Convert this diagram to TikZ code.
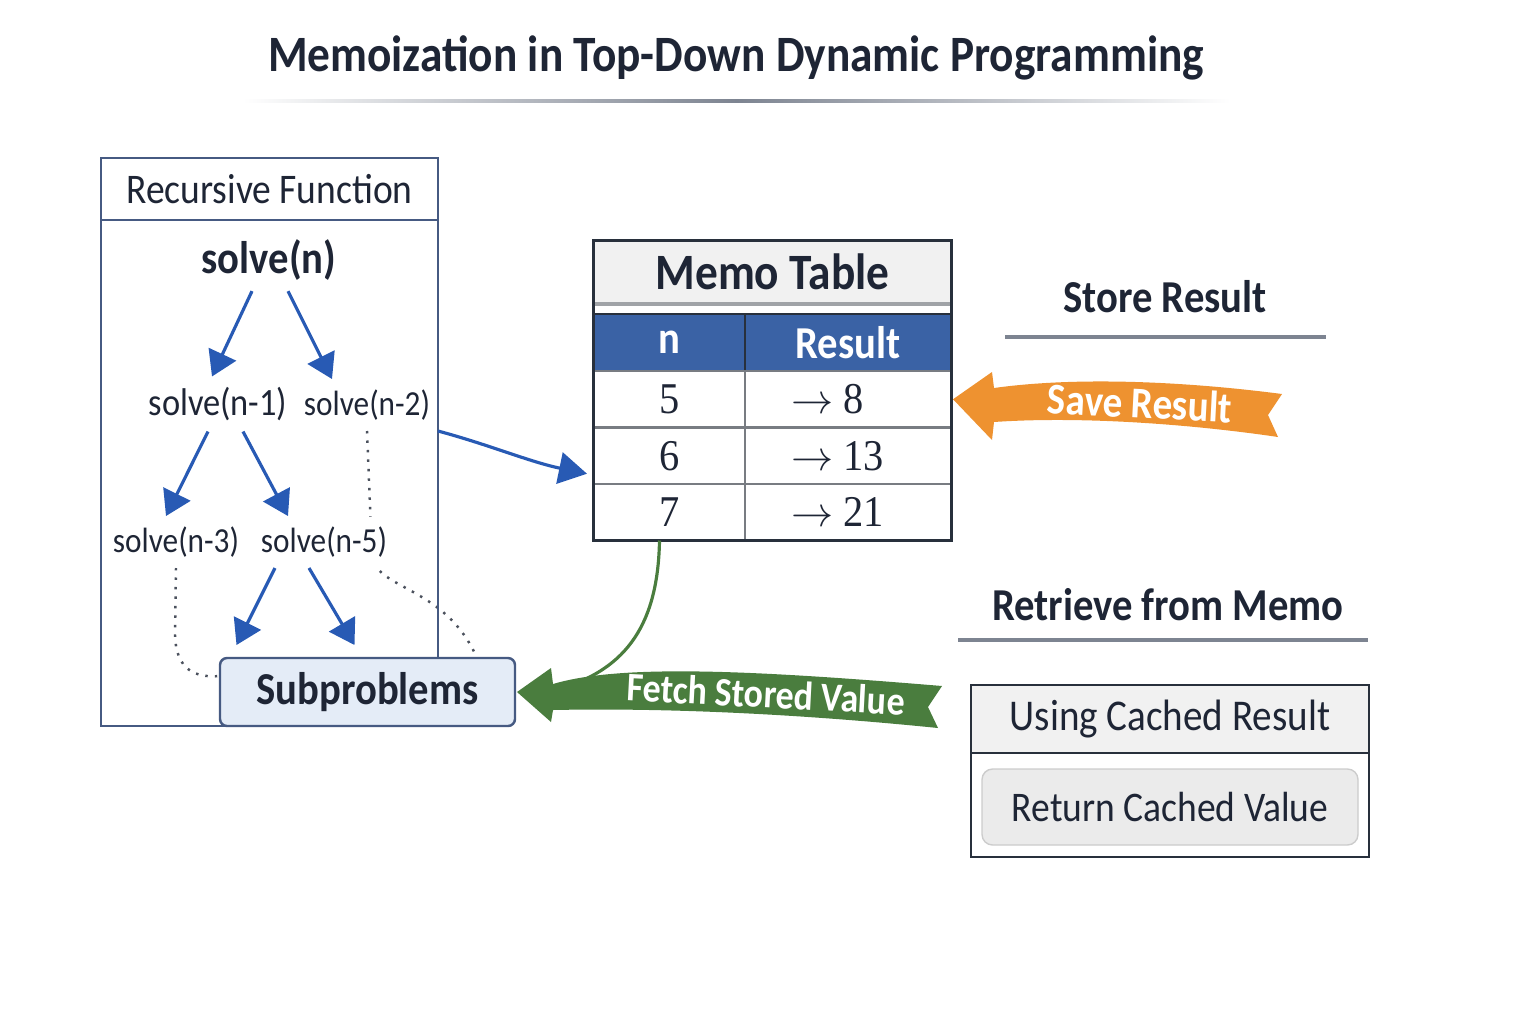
\documentclass[tikz,border=0pt]{standalone}
\usepackage{fontspec}
\setmainfont[FakeStretch=0.89]{Carlito}
\newfontfamily\valfont[FakeStretch=0.92]{Liberation Serif}
\usepackage{tikz}
\usetikzlibrary{arrows,arrows.meta,shapes,positioning,fit,backgrounds,calc}
\usepackage{xcolor}
\definecolor{mdnavy}{RGB}{30,37,53}
\definecolor{mdblue}{RGB}{40,90,180}
\definecolor{mdframe}{RGB}{70,90,130}
\definecolor{mdhead}{RGB}{58,98,165}
\definecolor{mdborder}{RGB}{40,48,60}
\definecolor{mdgrid}{RGB}{120,124,130}
\definecolor{mdlight}{RGB}{241,241,241}
\definecolor{mdrule}{RGB}{125,132,145}
\definecolor{mdsub}{RGB}{228,236,247}
\definecolor{mdorange}{RGB}{238,146,48}
\definecolor{mdgreen}{RGB}{74,125,62}
\tikzstyle{treearrow} = [line width=0.9pt, -{Triangle[length=7pt,width=8.5pt]}, color=mdblue]
\tikzstyle{dotline} = [dotted, line width=0.7pt, color=mdnavy!80]
\tikzstyle{fnbox} = [rectangle, draw=mdframe, line width=0.7pt, outer sep=0pt, text=mdnavy]
\tikzstyle{call} = [inner sep=0.1cm, text=mdnavy, font=\fontsize{10pt}{12pt}\selectfont]
\tikzstyle{cell} = [rectangle, draw=mdgrid, line width=0.7pt, minimum height=0.565cm, outer sep=0pt, inner sep=0pt, text=mdnavy, font=\fontsize{12.5pt}{14pt}\valfont]
\tikzstyle{hcell} = [cell, draw=mdborder, fill=mdhead, minimum height=0.57cm, text=white, font=\fontsize{13pt}{15pt}\selectfont\bfseries]
\tikzstyle{caption} = [text=mdnavy, font=\fontsize{13pt}{15pt}\selectfont\bfseries]
\tikzstyle{rule} = [line width=0.9pt, color=mdrule]
\newcommand{\val}[1]{\makebox[1.14cm][l]{$\rightarrow$ #1}}

\begin{document}
\begin{tikzpicture}
\useasboundingbox (0,0) rectangle (15.36,-10.24);

% Title
\node[text=mdnavy, font=\fontsize{14.5pt}{17pt}\selectfont\bfseries] (title) at (7.36,-0.58) {Memoization in Top-Down Dynamic Programming};
\shade[left color=white, right color=white, middle color=mdrule] (2.43,-0.99) rectangle (12.30,-1.02);

% Recursive function box
\node[fnbox, minimum width=3.37cm, minimum height=0.62cm, font=\fontsize{12pt}{14pt}\selectfont] (rechead) at (2.695,-1.89) {Recursive Function};
\node[fnbox, minimum width=3.37cm, minimum height=5.06cm, below=0pt of rechead] (recbody) {};

% Call tree
\node[call, font=\fontsize{13pt}{15pt}\selectfont\bfseries] (sn) at (2.69,-2.60) {solve(n)};
\node[call, font=\fontsize{11pt}{13pt}\selectfont] (n1) at (2.18,-4.04) {solve(n-1)};
\node[call] (n2) at (3.67,-4.05) {solve(n-2)};
\node[call] (n3) at (1.76,-5.42) {solve(n-3)};
\node[call, fill=white] (n5) at (3.24,-5.42) {solve(n-5)};

\node[fnbox, fill=mdsub, rounded corners=2pt, minimum width=2.95cm, minimum height=0.68cm, font=\fontsize{13pt}{15pt}\selectfont\bfseries] (sub) at (3.675,-6.92) {Subproblems};

\draw[treearrow] ([xshift=-1.7mm]sn.south) -- ([xshift=-0.6mm]n1.north);
\draw[treearrow] ([xshift=1.9mm]sn.south) -- ([xshift=-3.5mm]n2.north);
\draw[treearrow] ([xshift=-1.0mm]n1.south) -- ([xshift=-1.0mm]n3.north);
\draw[treearrow] ([xshift=2.5mm]n1.south) -- ([xshift=-3.6mm]n5.north);
\draw[treearrow] ([xshift=-4.9mm]n5.south) -- ([xshift=-13.1mm, yshift=1.3mm]sub.north);
\draw[treearrow] ([xshift=-1.5mm]n5.south) -- ([xshift=-1.3mm, yshift=1.3mm]sub.north);

% Dotted links
\begin{scope}[on background layer]
\draw[dotline] (n2.south) -- (3.72,-5.55) .. controls (3.75,-5.90) and (4.45,-5.85) .. ([xshift=-0.38cm]sub.north east);
\draw[dotline] (n3.south) -- (1.75,-6.35) .. controls (1.76,-6.70) and (1.95,-6.78) .. ([yshift=0.16cm]sub.west);
\end{scope}

% Memo table
\node[rectangle, fill=mdlight, minimum width=3.57cm, minimum height=0.62cm, text=mdnavy, font=\fontsize{14.5pt}{16pt}\selectfont\bfseries] (memotitle) at (7.725,-2.72) {Memo Table};
\draw[line width=1.1pt, color=mdgrid!70] (memotitle.south west) -- (memotitle.south east);
\node[hcell, minimum width=1.51cm, anchor=north west] (hn) at (5.94,-3.14) {n};
\node[hcell, minimum width=2.06cm, right=0pt of hn] (hr) {Result};
\node[cell, minimum width=1.51cm, below=0pt of hn] (c5) {5};
\node[cell, minimum width=2.06cm, right=0pt of c5] (r5) {\val{8}};
\node[cell, minimum width=1.51cm, below=0pt of c5] (c6) {6};
\node[cell, minimum width=2.06cm, right=0pt of c6] (r6) {\val{13}};
\node[cell, minimum width=1.51cm, below=0pt of c6] (c7) {7};
\node[cell, minimum width=2.06cm, right=0pt of c7] (r7) {\val{21}};
\node[draw=mdborder, line width=0.9pt, inner sep=0pt, fit=(memotitle)(r7)] (memo) {};

% Link from recursion to table
\draw[line width=0.9pt, color=mdblue, -{Triangle[length=8pt,width=9pt]}] (recbody.east |- n2.south) .. controls (4.90,-4.45) and (5.30,-4.62) .. ([xshift=-0.07cm, yshift=-0.18cm]c6.west);

% Store side
\node[caption] (store) at (11.65,-2.97) {Store Result};
\draw[rule] (10.05,-3.37) -- (13.26,-3.37);

% Save ribbon
\fill[mdorange] ([xshift=0.02cm]r5.east) -- (9.92,-3.72) -- (9.94,-3.88) .. controls (10.8,-3.76) and (11.9,-3.82) .. (12.82,-3.94) -- (12.68,-4.15) -- (12.78,-4.37) .. controls (11.9,-4.24) and (10.8,-4.16) .. (9.94,-4.22) -- (9.92,-4.40) -- cycle;
\node[text=white, rotate=-3, font=\fontsize{12.5pt}{14pt}\selectfont\bfseries] (save) at (11.40,-4.03) {Save Result};

% Retrieve side
\node[caption] (retrieve) at (11.68,-6.05) {Retrieve from Memo};
\draw[rule] (9.58,-6.40) -- (13.68,-6.40);

% Fetch ribbon
\fill[mdgreen] ([xshift=0.02cm]sub.east) -- (5.51,-6.68) -- (5.53,-6.84) .. controls (6.2,-6.64) and (7.5,-6.70) .. (9.42,-6.86) -- (9.28,-7.07) -- (9.38,-7.28) .. controls (7.8,-7.12) and (6.5,-7.08) .. (5.53,-7.10) -- (5.51,-7.22) -- cycle;
\node[text=white, rotate=-3, font=\fontsize{11.5pt}{13pt}\selectfont\bfseries] (fetch) at (7.66,-6.94) {Fetch Stored Value};
\draw[line width=0.9pt, color=mdgreen] ([xshift=-1mm]c7.south) .. controls (6.58,-6.20) and (6.30,-6.70) .. (5.55,-6.90);

% Cached result box
\node[rectangle, draw=mdborder, line width=0.8pt, fill=mdlight, minimum width=3.98cm, minimum height=0.68cm, outer sep=0pt, text=mdnavy, font=\fontsize{12.5pt}{14pt}\selectfont] (usinghead) at (11.70,-7.19) {Using Cached Result};
\node[rectangle, draw=mdborder, line width=0.8pt, minimum width=3.98cm, minimum height=1.04cm, outer sep=0pt, below=0pt of usinghead] (usingbody) {};
\node[rectangle, rounded corners=3pt, draw=black!20, fill=mdlight!95!gray, minimum width=3.76cm, minimum height=0.76cm, text=mdnavy, font=\fontsize{12pt}{14pt}\selectfont] (retval) at (11.70,-8.07) {Return Cached Value};
\end{tikzpicture}
\end{document}
